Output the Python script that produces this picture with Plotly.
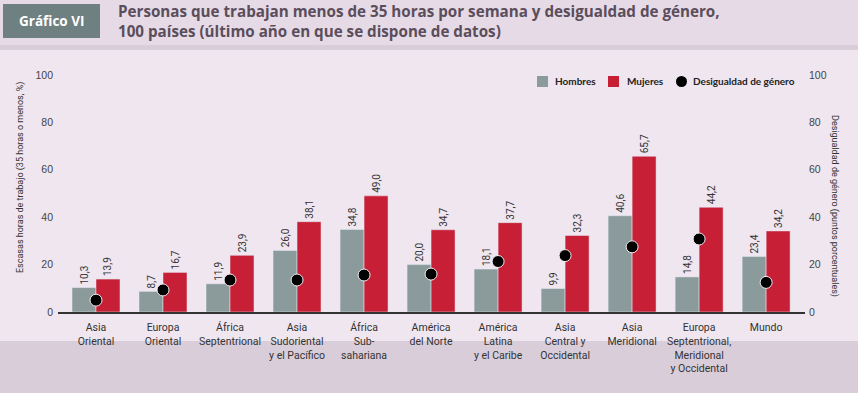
import plotly.graph_objects as go

categories = ["Asia<br>Oriental", "Europa<br>Oriental", "África<br>Septentrional",
              "Asia<br>Sudoriental<br>y el Pacífico", "África<br>Sub-<br>sahariana",
              "América<br>del Norte", "América<br>Latina<br>y el Caribe",
              "Asia<br>Central y<br>Occidental", "Asia<br>Meridional",
              "Europa<br>Septentrional,<br>Meridional<br>y Occidental", "Mundo"]
hombres = [10.3, 8.7, 11.9, 26.0, 34.8, 20.0, 18.1, 9.9, 40.6, 14.8, 23.4]
mujeres = [13.9, 16.7, 23.9, 38.1, 49.0, 34.7, 37.7, 32.3, 65.7, 44.2, 34.2]
desigualdad = [5.0, 9.3, 13.5, 13.5, 15.6, 16.0, 21.3, 23.8, 27.5, 30.8, 12.5]
y_ticks = [0, 20, 40, 60, 80, 100]
series_names = ["Hombres", "Mujeres", "Desigualdad de género"]

W, H = 858, 393
ML, MR, MT, MB = 58, 53, 75, 81
PW, PH = W - ML - MR, H - MT - MB

def px(x):
    return (x - ML) / PW

def py(y):
    return (H - MB - y) / PH

NARROW = "Roboto, Liberation Sans Narrow, sans-serif"
BOLD = "Open Sans, Lato, sans-serif"
LEG = "Lato, Open Sans, sans-serif"
GRAY = "#8b9a9b"
RED = "#c71f35"

fig = go.Figure()
fig.add_trace(go.Bar(x=categories, y=hombres, name=series_names[0], marker_color=GRAY,
                     texttemplate="%{y:.1f}", textposition="outside", textangle=-90,
                     constraintext="none", cliponaxis=False, showlegend=False,
                     textfont=dict(family=NARROW, size=10, color="#333")))
fig.add_trace(go.Bar(x=categories, y=mujeres, name=series_names[1], marker_color=RED,
                     texttemplate="%{y:.1f}", textposition="outside", textangle=-90,
                     constraintext="none", cliponaxis=False, showlegend=False,
                     textfont=dict(family=NARROW, size=10, color="#333")))
fig.add_trace(go.Scatter(x=categories, y=desigualdad, name=series_names[2],
                         mode="markers", yaxis="y2", cliponaxis=False, showlegend=False,
                         marker=dict(color="black", size=12, line=dict(color="#f4eef4", width=1))))

shapes = [
    dict(type="rect", xref="paper", yref="paper", x0=px(0), x1=px(W), y0=py(0), y1=py(45),
         fillcolor="#e6dae7", line_width=0, layer="below"),
    dict(type="rect", xref="paper", yref="paper", x0=px(0), x1=px(W), y0=py(45), y1=py(50),
         fillcolor="#dacdda", line_width=0, layer="below"),
    dict(type="rect", xref="paper", yref="paper", x0=px(0), x1=px(W), y0=py(341), y1=py(H),
         fillcolor="#d9cdda", line_width=0, layer="below"),
    dict(type="rect", xref="paper", yref="paper", x0=px(3), x1=px(100), y0=py(38), y1=py(4),
         fillcolor="#6f8081", line_width=0, layer="below"),
    # legend symbols
    dict(type="rect", xref="paper", yref="paper", x0=px(537), x1=px(548), y0=py(87), y1=py(76),
         fillcolor=GRAY, line_width=0),
    dict(type="rect", xref="paper", yref="paper", x0=px(608), x1=px(619), y0=py(87), y1=py(76),
         fillcolor=RED, line_width=0),
    dict(type="circle", xref="paper", yref="paper", x0=px(676), x1=px(687), y0=py(87), y1=py(76),
         fillcolor="black", line_width=0),
]

annotations = [
    dict(text="<b>Gráfico VI</b>", xref="paper", yref="paper", x=px(51), y=py(21),
         xanchor="center", yanchor="middle", showarrow=False,
         font=dict(family=BOLD, size=13.5, color="white")),
    dict(text="<b>Personas que trabajan menos de 35 horas por semana y desigualdad de género,</b>"
              "<br><b>100 países (último año en que se dispone de datos)</b>",
         xref="paper", yref="paper", x=px(116), y=py(21), xanchor="left", yanchor="middle",
         align="left", showarrow=False, font=dict(family=BOLD, size=15.2, color="#5b4e5b")),
    dict(text="Escasas horas de trabajo (35 horas o menos, %)", xref="paper", yref="paper",
         x=px(20), y=py(178), xanchor="center", yanchor="middle", textangle=-90,
         showarrow=False, font=dict(family=NARROW, size=9, color="#333")),
    dict(text="Desigualdad de género (puntos porcentuales)", xref="paper", yref="paper",
         x=px(835), y=py(206), xanchor="center", yanchor="middle", textangle=90,
         showarrow=False, font=dict(family=NARROW, size=9, color="#333")),
]
for name, x0 in zip(series_names, [553, 625, 691]):
    annotations.append(dict(text="<b>" + name + "</b>", xref="paper", yref="paper",
                            x=px(x0), y=py(81), xanchor="left", yanchor="middle",
                            showarrow=False, font=dict(family=LEG, size=10, color="#222")))

fig.update_layout(
    width=W, height=H, margin=dict(l=ML, r=MR, t=MT, b=MB),
    paper_bgcolor="#efe6f0", plot_bgcolor="rgba(0,0,0,0)",
    separators=",.", barmode="group", bargap=0.284, bargroupgap=0,
    shapes=shapes, annotations=annotations, showlegend=False,
    xaxis=dict(range=[-0.567, 10.58], showline=True, linecolor="#333", linewidth=1.5,
               ticks="outside", ticklen=5, tickcolor="rgba(0,0,0,0)", showgrid=False,
               tickfont=dict(family=NARROW, size=10.5, color="#333")),
    yaxis=dict(range=[0, 100], tickvals=y_ticks, showgrid=False, zeroline=False,
               ticks="", ticklabelstandoff=4,
               tickfont=dict(family="Liberation Sans, Arial, sans-serif", size=10.5, color="#444")),
    yaxis2=dict(range=[0, 100], tickvals=y_ticks, overlaying="y", side="right", showgrid=False,
                zeroline=False, ticks="", ticklabelstandoff=3,
                tickfont=dict(family="Liberation Sans, Arial, sans-serif", size=10.5, color="#444")),
)

fig.write_html("out.html", config={"displayModeBar": False},
               post_script="document.body.style.margin='0';")
